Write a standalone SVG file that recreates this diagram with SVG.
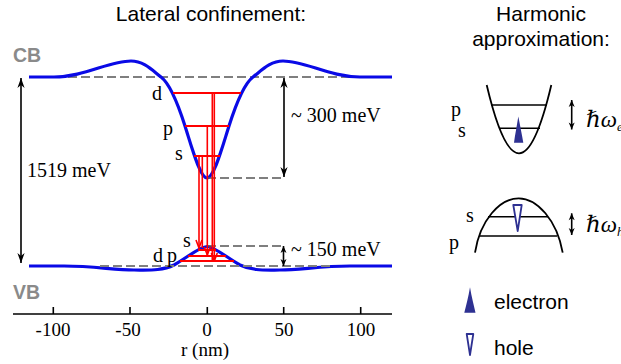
<svg xmlns="http://www.w3.org/2000/svg" width="621" height="364" viewBox="0 0 621 364">
<defs>
<style>
.serif{font-family:"Liberation Serif","DejaVu Serif",serif;font-size:20px;fill:#000}
.tick{font-family:"Liberation Serif","DejaVu Serif",serif;font-size:19px;fill:#000}
.sans{font-family:"Liberation Sans",Arial,sans-serif;font-size:21px;fill:#000}
.band{font-family:"Liberation Sans",Arial,sans-serif;font-size:19.5px;font-weight:bold;fill:#8a8a8a}
.curve{fill:none;stroke:#0a0ae6;stroke-width:3.2;stroke-linejoin:round}
.lvl{stroke:#ff0000;stroke-width:2;fill:none}
.tr{stroke:#ff0000;stroke-width:1.6;fill:none}
.dash{stroke:#555;stroke-width:1.3;stroke-dasharray:9 4;fill:none}
.dashvb{stroke:#808080;stroke-width:2.2;stroke-dasharray:9 4;fill:none}
.blk{stroke:#000;stroke-width:1.6;fill:none}
.hs{stroke:#000;stroke-width:1.8;fill:none}
.hw{font-family:"Liberation Serif","DejaVu Serif",serif;font-size:23px;font-style:italic;fill:#000}
</style>
<marker id="ah" viewBox="-11 -5 12 10" markerWidth="12" markerHeight="10" refX="0" refY="0" orient="auto-start-reverse" markerUnits="userSpaceOnUse">
<path d="M0,0 L-10,-3.6 L-7,0 L-10,3.6 Z" fill="#000"/>
</marker>
<marker id="ahs" viewBox="-8 -4 9 8" markerWidth="9" markerHeight="8" refX="0" refY="0" orient="auto-start-reverse" markerUnits="userSpaceOnUse">
<path d="M0,0 L-7,-3 L-5,0 L-7,3 Z" fill="#000"/>
</marker>
<marker id="rv" viewBox="-9 -5 10 10" markerWidth="10" markerHeight="10" refX="0" refY="0" orient="auto" markerUnits="userSpaceOnUse">
<path d="M-8,-3 L0,0 L-8,3" stroke="#ff0000" stroke-width="1.6" fill="none"/>
</marker>
</defs>
<rect width="621" height="364" fill="#fff"/>

<g id="titles">
<text class="sans" x="211" y="21" text-anchor="middle">Lateral confinement:</text>
<text class="sans" x="541" y="21" text-anchor="middle">Harmonic</text>
<text class="sans" x="541" y="46" text-anchor="middle">approximation:</text>
</g>

<g id="cb">
<line class="dash" x1="29" y1="77" x2="392" y2="77"/>
<path class="curve" d="M29,77 L54,77 C84,77 109,61 131,61 C144,61 153,71 161,77 C169,83 178,104 185,126 C192,148 200,178 207,178 C214,178 222,148 229,126 C236,104 245,83 253,77 C261,71 270,61 283,61 C305,61 330,77 360,77 L392,77"/>
<text class="band" x="13" y="62">CB</text>
<line class="dash" x1="207" y1="178" x2="285" y2="178"/>
</g>

<g id="vb">
<path class="curve" d="M29,266 L64,266 C94,266 114,270 134,270 C149,270 162,271 174,265 C188,257 200,246.5 207,246.5 C214,246.5 226,257 240,265 C252,271 265,270 280,270 C300,270 320,266 350,266 L392,266"/>
<line class="dashvb" x1="100" y1="266" x2="330" y2="266"/>
<line class="dash" x1="207" y1="246" x2="283" y2="246"/>
<text class="band" x="13" y="299">VB</text>
</g>

<g id="cb-levels">
<line class="lvl" x1="173" y1="93" x2="241" y2="93"/>
<line class="lvl" x1="185" y1="126" x2="229" y2="126"/>
<line class="lvl" x1="194" y1="156" x2="220" y2="156"/>
<text class="serif" x="152" y="100">d</text>
<text class="serif" x="163" y="135">p</text>
<text class="serif" x="175" y="160">s</text>
</g>

<g id="vb-levels">
<line class="lvl" x1="198" y1="250" x2="216" y2="250"/>
<line class="lvl" x1="188" y1="256" x2="226" y2="256"/>
<line class="lvl" x1="180" y1="261" x2="234" y2="261"/>
<text class="serif" x="153" y="262">d</text>
<text class="serif" x="167" y="262">p</text>
<text class="serif" x="183" y="247">s</text>
</g>

<g id="axis">
<line class="blk" x1="13" y1="314" x2="392" y2="314"/>
<line class="blk" x1="53.3" y1="307" x2="53.3" y2="314"/>
<line class="blk" x1="130" y1="307" x2="130" y2="314"/>
<line class="blk" x1="207.3" y1="307" x2="207.3" y2="314"/>
<line class="blk" x1="283.7" y1="307" x2="283.7" y2="314"/>
<line class="blk" x1="360.7" y1="307" x2="360.7" y2="314"/>
<text class="tick" x="53" y="336" text-anchor="middle">-100</text>
<text class="tick" x="128" y="336" text-anchor="middle">-50</text>
<text class="tick" x="207" y="336" text-anchor="middle">0</text>
<text class="tick" x="284" y="336" text-anchor="middle">50</text>
<text class="tick" x="361" y="336" text-anchor="middle">100</text>
<text class="tick" x="205" y="356" text-anchor="middle">r (nm)</text>
</g>

<g id="labels">
<text class="serif" x="27" y="177">1519 meV</text>
<text class="serif" x="291" y="122">~ 300 meV</text>
<text class="serif" x="291" y="256">~ 150 meV</text>
</g>

<g id="harmonic-electron">
<path class="hs" d="M486.7,85 Q519,221.6 551.3,85"/>
<line class="blk" x1="491" y1="105" x2="547" y2="105"/>
<line class="blk" x1="499" y1="128.3" x2="540" y2="128.3"/>
<path d="M518.3,116.5 C517,125 515,135 514,142.7 L523.3,142.7 C522,135 520,125 518.3,116.5 Z" fill="#2e3192"/>
<text class="serif" x="451" y="116">p</text>
<text class="serif" x="458" y="137">s</text>
<text class="hw" x="586" y="127">ℏω<tspan font-size="13" dy="4">e</tspan></text>
</g>

<g id="harmonic-hole">
<path class="hs" d="M475,252.7 C480,220 500,198.3 518.7,198.3 C537,198.3 557,220 562.7,252.7"/>
<line class="blk" x1="488" y1="216.7" x2="548" y2="216.7"/>
<line class="blk" x1="480" y1="236" x2="557" y2="236"/>
<path d="M513.3,205 L521.7,205 L517.7,231 Z" fill="#fff" stroke="#2e3192" stroke-width="1.8" stroke-linejoin="round"/>
<text class="serif" x="466" y="222">s</text>
<text class="serif" x="449" y="249">p</text>
<text class="hw" x="586" y="232">ℏω<tspan font-size="13" dy="4">h</tspan></text>
</g>

<g id="legend">
<path d="M470,287.3 C468.5,297 466,306 464.3,312.7 L475.5,312.7 C474,306 471.5,297 470,287.3 Z" fill="#2e3192"/>
<text class="sans" x="494" y="309">electron</text>
<path d="M466.7,334 L473.3,334 L470,355 Z" fill="#fff" stroke="#2e3192" stroke-width="1.8" stroke-linejoin="round"/>
<text class="sans" x="494" y="355">hole</text>
</g>

<g id="connectors">
<line class="blk" x1="21" y1="78" x2="21" y2="263" marker-start="url(#ah)" marker-end="url(#ah)"/>
<line class="blk" x1="284" y1="78" x2="284" y2="177" marker-start="url(#ah)" marker-end="url(#ah)"/>
<line class="blk" x1="283.5" y1="246" x2="283.5" y2="266" marker-start="url(#ahs)" marker-end="url(#ahs)"/>
<line class="blk" x1="571.7" y1="100" x2="571.7" y2="129.5" stroke-width="1.4" marker-start="url(#ahs)" marker-end="url(#ahs)"/>
<line class="blk" x1="571.7" y1="213.3" x2="571.7" y2="235" stroke-width="1.4" marker-start="url(#ahs)" marker-end="url(#ahs)"/>
<line class="tr" x1="199" y1="156" x2="199" y2="248" marker-end="url(#rv)"/>
<line class="tr" x1="202.3" y1="156" x2="202.3" y2="248"/>
<line class="tr" x1="207.3" y1="126" x2="207.3" y2="255" marker-end="url(#rv)"/>
<line class="tr" x1="212.3" y1="93" x2="212.3" y2="261"/>
<line class="tr" x1="214.3" y1="93" x2="214.3" y2="261" marker-end="url(#rv)"/>
</g>
</svg>
